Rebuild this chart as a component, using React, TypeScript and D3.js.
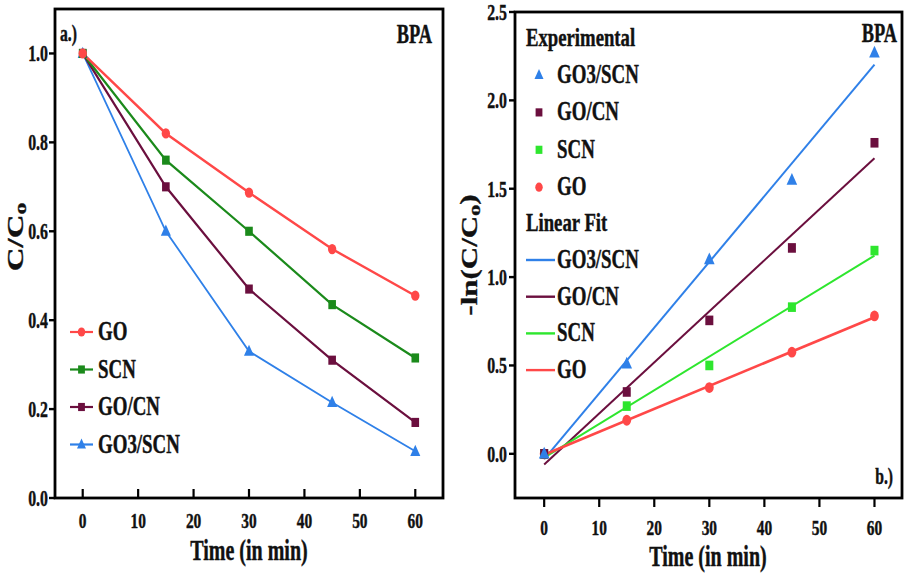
import React from 'react';
import * as d3 from 'd3';

// time points (min)
const times = [0, 15, 30, 45, 60];
const xTicks = [0, 10, 20, 30, 40, 50, 60];
const leftYTicks = [0, 0.2, 0.4, 0.6, 0.8, 1.0];
const rightYTicks = [0, 0.5, 1.0, 1.5, 2.0, 2.5];

// panel a: C/Co
const ratioGO = [1.0, 0.82, 0.687, 0.56, 0.455];
const ratioSCN = [1.0, 0.76, 0.6, 0.435, 0.315];
const ratioGOCN = [1.0, 0.7, 0.47, 0.31, 0.17];
const ratioGO3SCN = [1.0, 0.6, 0.33, 0.215, 0.105];

// panel b: -ln(C/Co)
const lnGO3SCN = [0, 0.51, 1.1, 1.55, 2.27];
const lnGOCN = [0, 0.35, 0.755, 1.165, 1.76];
const lnSCN = [0, 0.27, 0.5, 0.83, 1.15];
const lnGO = [0, 0.19, 0.375, 0.575, 0.78];

const RED = '#ff4848';
const GREEN_DARK = '#1b8a1b';
const GREEN_LIGHT = '#2ee62e';
const MAROON = '#6b0f3e';
const BLUE = '#2f80e8';
const FONT = 'Liberation Serif, DejaVu Serif, serif';

type Shape = 'circle' | 'square' | 'triangle';

const leftSeries = [
  { name: 'GO', values: ratioGO, color: RED, shape: 'circle' as Shape, width: 2.4 },
  { name: 'SCN', values: ratioSCN, color: GREEN_DARK, shape: 'square' as Shape, width: 2.2 },
  { name: 'GO/CN', values: ratioGOCN, color: MAROON, shape: 'square' as Shape, width: 2.2 },
  { name: 'GO3/SCN', values: ratioGO3SCN, color: BLUE, shape: 'triangle' as Shape, width: 1.8 },
];

const rightSeries = [
  { name: 'GO3/SCN', values: lnGO3SCN, color: BLUE, shape: 'triangle' as Shape },
  { name: 'GO/CN', values: lnGOCN, color: MAROON, shape: 'square' as Shape },
  { name: 'SCN', values: lnSCN, color: GREEN_LIGHT, shape: 'square' as Shape },
  { name: 'GO', values: lnGO, color: RED, shape: 'circle' as Shape },
];

// least squares fit
function fit(xs: number[], ys: number[]) {
  const mx = d3.mean(xs)!;
  const my = d3.mean(ys)!;
  const sxy = d3.sum(xs, (x, i) => (x - mx) * (ys[i] - my));
  const sxx = d3.sum(xs, x => (x - mx) * (x - mx));
  const slope = sxy / sxx;
  return { slope, intercept: my - slope * mx };
}

const Marker = ({ x, y, shape, color, s = 1 }: { x: number; y: number; shape: Shape; color: string; s?: number }) => {
  if (shape === 'circle') return <ellipse cx={x} cy={y} rx={4.4 * s} ry={5.4 * s} fill={color} />;
  if (shape === 'square') return <rect x={x - 4 * s} y={y - 4.8 * s} width={8 * s} height={9.6 * s} fill={color} />;
  return <path transform={`translate(${x},${y}) scale(${s})`} d="M0,-7 L5.3,4.8 L-5.3,4.8 Z" fill={color} />;
};

// text squeezed horizontally, like the stretched figure
const T = ({ x, y, size, anchor = 'start', rot = 0, sx = 0.72, children }: any) => {
  const tf = rot
    ? `translate(${x},${y}) rotate(${rot}) scale(1,${sx})`
    : `translate(${x},${y}) scale(${sx},1)`;
  return (
    <text
      transform={tf}
      textAnchor={anchor}
      dominantBaseline={rot ? 'central' : 'auto'}
      style={{ fontFamily: FONT, fontWeight: 700, fontSize: size + 'px' }}
      fill="#111"
      stroke="#111"
      strokeWidth={0.45}
    >
      {children}
    </text>
  );
};

const App = () => {
  // panel a scales
  const xA = d3.scaleLinear().domain([-5, 65]).range([55, 443]);
  const yA = d3.scaleLinear().domain([0, 1.1]).range([498, 9]);
  // panel b scales
  const xB = d3.scaleLinear().domain([-5.3, 65]).range([515, 902]);
  const yB = d3.scaleLinear().domain([-0.25, 2.5]).range([498, 12]);

  const lineA = d3.line<number>().x((_, i) => xA(times[i])).y(d => yA(d));

  return (
    <svg width={908} height={579} style={{ position: 'absolute', left: 0, top: 0, background: '#fff' }}>
      {/* ---------- panel a ---------- */}
      <g>
        {leftSeries.slice().reverse().map(s => (
          <path key={s.name} d={lineA(s.values)!} fill="none" stroke={s.color} strokeWidth={s.width} />
        ))}
        {leftSeries.slice().reverse().map(s => (
          <g key={s.name}>
            {s.values.map((v, i) => (
              <Marker key={i} x={xA(times[i])} y={yA(v)} shape={s.shape} color={s.color} s={0.95} />
            ))}
          </g>
        ))}
        <rect x={55} y={9} width={388} height={489} fill="none" stroke="#000" strokeWidth={2.8} />
        {leftYTicks.map(t => (
          <g key={t}>
            <line x1={49} x2={55} y1={yA(t)} y2={yA(t)} stroke="#000" strokeWidth={2.4} />
            <T x={48} y={yA(t) + 8} size={24} sx={0.66} anchor="end">{t.toFixed(1)}</T>
          </g>
        ))}
        {xTicks.map(t => (
          <g key={t}>
            <line x1={xA(t)} x2={xA(t)} y1={498} y2={489} stroke="#000" strokeWidth={2.2} />
            <T x={xA(t)} y={528} size={22} sx={0.7} anchor="middle">{t}</T>
          </g>
        ))}
        <T x={249} y={560} size={29} sx={0.69} anchor="middle">Time (in min)</T>
        <T x={15} y={237} size={33} anchor="middle" rot={-90}>
          C/C<tspan fontSize="0.72em" dy="0.28em">o</tspan>
        </T>
        <T x={60} y={41} size={23} sx={0.68}>a.)</T>
        <T x={432} y={43} size={27} sx={0.68} anchor="end">BPA</T>
        {/* legend */}
        {leftSeries.map((s, i) => {
          const ly = 332 + i * 37.5;
          return (
            <g key={s.name}>
              <line x1={70} x2={93} y1={ly} y2={ly} stroke={s.color} strokeWidth={2.2} />
              <Marker x={81.5} y={ly} shape={s.shape} color={s.color} s={0.85} />
              <T x={98} y={ly + 8} size={27} sx={0.7}>{s.name}</T>
            </g>
          );
        })}
      </g>

      {/* ---------- panel b ---------- */}
      <g>
        {rightSeries.map(s => {
          const f = fit(times, s.values);
          return (
            <line
              key={s.name}
              x1={xB(0)}
              x2={xB(60)}
              y1={yB(f.intercept)}
              y2={yB(f.intercept + f.slope * 60)}
              stroke={s.color}
              strokeWidth={s.name === 'GO' ? 2.6 : 2}
            />
          );
        })}
        {rightSeries.slice().reverse().map(s => (
          <g key={s.name}>
            {s.values.map((v, i) => (
              <Marker key={i} x={xB(times[i])} y={yB(v)} shape={s.shape} color={s.color} s={1} />
            ))}
          </g>
        ))}
        <rect x={515} y={12} width={387} height={486} fill="none" stroke="#000" strokeWidth={2.8} />
        {rightYTicks.map(t => (
          <g key={t}>
            <line x1={509} x2={515} y1={yB(t)} y2={yB(t)} stroke="#000" strokeWidth={2.4} />
            <T x={507} y={yB(t) + 8} size={24} sx={0.66} anchor="end">{t.toFixed(1)}</T>
          </g>
        ))}
        {xTicks.map(t => (
          <g key={t}>
            <line x1={xB(t)} x2={xB(t)} y1={498} y2={507} stroke="#000" strokeWidth={2.2} />
            <T x={xB(t)} y={535} size={22} sx={0.7} anchor="middle">{t}</T>
          </g>
        ))}
        <T x={708} y={566} size={29} sx={0.69} anchor="middle">Time (in min)</T>
        <T x={470} y={255} size={31} anchor="middle" rot={-90}>
          -ln(C/C<tspan fontSize="0.72em" dy="0.28em">o</tspan><tspan dy="-0.28em">)</tspan>
        </T>
        <T x={897} y={42} size={27} sx={0.68} anchor="end">BPA</T>
        <T x={893} y={484} size={23} sx={0.68} anchor="end">b.)</T>
        {/* legend */}
        <T x={526} y={46} size={26}>Experimental</T>
        {rightSeries.map((s, i) => {
          const ly = 75 + i * 37.4;
          return (
            <g key={s.name}>
              <Marker x={539} y={ly} shape={s.shape} color={s.color} s={0.85} />
              <T x={557} y={ly + 8} size={27} sx={0.7}>{s.name}</T>
            </g>
          );
        })}
        <T x={526} y={231} size={26}>Linear Fit</T>
        {rightSeries.map((s, i) => {
          const ly = 260 + i * 36.7;
          return (
            <g key={s.name}>
              <line x1={526} x2={555} y1={ly} y2={ly} stroke={s.color} strokeWidth={2.4} />
              <T x={557} y={ly + 8} size={27} sx={0.7}>{s.name}</T>
            </g>
          );
        })}
      </g>
    </svg>
  );
};

export default App;
